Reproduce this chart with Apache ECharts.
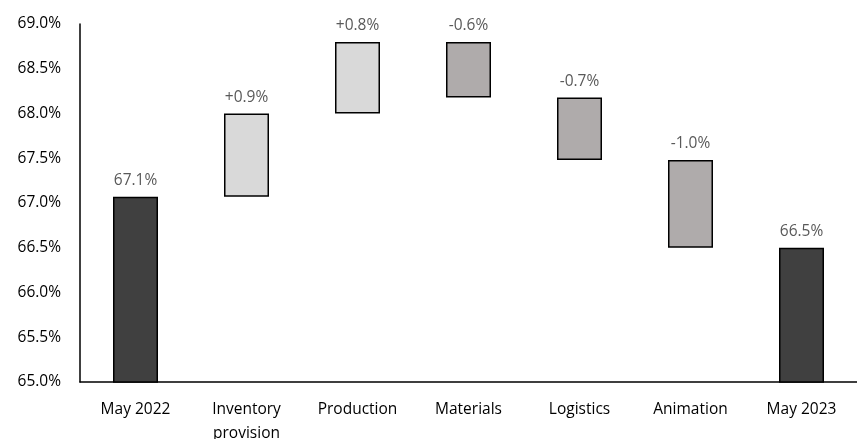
<!DOCTYPE html>
<html>
<head>
<meta charset="utf-8">
<script src="https://cdn.jsdelivr.net/npm/echarts@6/dist/echarts.min.js"></script>
<style>
  html, body { margin: 0; padding: 0; background: #fff; }
  #chart { width: 857px; height: 439px; }
</style>
</head>
<body>
<div id="chart"></div>
<script>
const categories = ["May 2022", "Inventory\nprovision", "Production", "Materials", "Logistics", "Animation", "May 2023"];
// start value, then the change of each step, then the end value (all in %)
const startValue = 67.07;
const changes = [0.93, 0.80, -0.62, -0.70, -0.98];
const endValue = 66.50;
const barLabels = ["67.1%", "+0.9%", "+0.8%", "-0.6%", "-0.7%", "-1.0%", "66.5%"];
const yTicks = [65.0, 65.5, 66.0, 66.5, 67.0, 67.5, 68.0, 68.5, 69.0];

const totalColor = "#404040";
const upColor = "#d9d9d9";
const downColor = "#afabab";

// build invisible base + visible bar for the waterfall
const baseData = [];
const barData = [];
baseData.push(0);
barData.push({ value: startValue, itemStyle: { color: totalColor } });
let running = startValue;
changes.forEach((d) => {
  const next = running + d;
  baseData.push(Math.min(running, next));
  barData.push({ value: Math.abs(d), itemStyle: { color: d >= 0 ? upColor : downColor } });
  running = next;
});
baseData.push(0);
barData.push({ value: endValue, itemStyle: { color: totalColor } });

const font = "'Open Sans', Lato, sans-serif";

const chart = echarts.init(document.getElementById("chart"), null, { renderer: "canvas" });
chart.setOption({
  backgroundColor: "#fff",
  animation: false,
  grid: { left: 80, right: 0, top: 24, bottom: 57, containLabel: false, outerBoundsMode: "none" },
  xAxis: {
    type: "category",
    data: categories,
    axisLine: { lineStyle: { color: "#000", width: 1.5 } },
    axisTick: { show: false },
    axisLabel: {
      color: "#000",
      fontFamily: font,
      fontSize: 15.5,
      margin: 16,
      lineHeight: 24,
      interval: 0,
    },
  },
  yAxis: {
    type: "value",
    min: yTicks[0],
    max: yTicks[yTicks.length - 1],
    interval: 0.5,
    axisLine: { show: true, lineStyle: { color: "#000", width: 1.5 } },
    axisTick: { show: false },
    splitLine: { show: false },
    axisLabel: {
      color: "#000",
      fontFamily: font,
      fontSize: 15.5,
      margin: 19,
      formatter: (v) => v.toFixed(1) + "%",
    },
  },
  series: [
    {
      type: "bar",
      stack: "wf",
      data: baseData,
      itemStyle: { color: "transparent" },
      silent: true,
      barWidth: 45,
    },
    {
      type: "bar",
      stack: "wf",
      data: barData,
      barWidth: 45,
      itemStyle: { borderColor: "#000", borderWidth: 1.5 },
      label: {
        show: true,
        position: "top",
        distance: 8,
        color: "#595959",
        fontFamily: font,
        fontSize: 15.5,
        formatter: (p) => barLabels[p.dataIndex],
      },
    },
  ],
});
</script>
</body>
</html>
